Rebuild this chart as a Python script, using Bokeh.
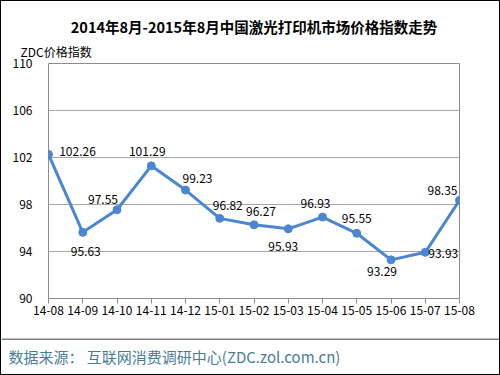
from bokeh.plotting import figure
from bokeh.layouts import column
from bokeh.models import (ColumnDataSource, Range1d, FixedTicker, Title, Span)
from bokeh.core.properties import value
from bokeh.embed import file_html
from bokeh.resources import INLINE

# ---- data ----
months = ["14-08", "14-09", "14-10", "14-11", "14-12", "15-01", "15-02",
          "15-03", "15-04", "15-05", "15-06", "15-07", "15-08"]
index_values = [102.26, 95.63, 97.55, 101.29, 99.23, 96.82, 96.27,
                95.93, 96.93, 95.55, 93.29, 93.93, 98.35]
y_ticks = [90, 94, 98, 102, 106, 110]
title_text = "2014年8月-2015年8月中国激光打印机市场价格指数走势"
unit_text = "ZDC价格指数"
source_text = ["数据来源：  互联网消费调研中心(ZDC.zol.com.cn)"]

# label placement (screen offsets, style only)
label_dx = [29, 3, -14, -4, 12, 8, 7, -5, -7, 0, -9, 18, -17]
label_dy = [-3, 19, -10, -14, -12, -13, -13, 18, -14, -15, 12, 1, -10]

FONT = "Noto Sans CJK SC"
LINE = "#4a86d2"

xs = list(range(len(months)))
src = ColumnDataSource(dict(x=xs, y=index_values,
                            lbl=[f"{v:.2f}" for v in index_values],
                            dx=label_dx, dy=label_dy))

W = 498
p = figure(width=W, height=337, output_backend="svg", toolbar_location=None,
           x_range=Range1d(0, len(months) - 1), y_range=Range1d(90, 110),
           min_border_left=47, min_border_right=40, min_border_top=62,
           min_border_bottom=40)
p.background_fill_color = "white"
p.border_fill_color = "white"
p.outline_line_color = "#8c8c8c"
p.outline_line_width = 1

# titles
p.title = Title(text=title_text, align="center",
                text_font=FONT, text_font_size="14.5px", text_font_style="bold",
                text_color="#000000", standoff=1)
p.add_layout(Title(text=unit_text, align="left", offset=-28,
                   text_font=FONT, text_font_size="12px", text_font_style="normal",
                   text_color="#000000", standoff=7), "above")

# axes
p.xaxis.ticker = FixedTicker(ticks=xs)
p.xaxis.major_label_overrides = {i: m for i, m in enumerate(months)}
p.xaxis.axis_line_color = None
p.xaxis.major_tick_line_color = "#8c8c8c"
p.xaxis.major_tick_out = 5
p.xaxis.major_tick_in = 0
p.xaxis.minor_tick_line_color = None
p.xaxis.major_label_standoff = 2
p.xaxis.major_label_text_font = FONT
p.xaxis.major_label_text_font_size = "12px"
p.xaxis.major_label_text_color = "#000000"

p.yaxis.ticker = FixedTicker(ticks=y_ticks)
p.yaxis.axis_line_color = None
p.yaxis.major_tick_line_color = None
p.yaxis.minor_tick_line_color = None
p.yaxis.major_label_standoff = 10
p.yaxis.major_label_text_font = FONT
p.yaxis.major_label_text_font_size = "12px"
p.yaxis.major_label_text_color = "#000000"

p.xgrid.grid_line_color = None
p.ygrid.grid_line_color = "#a6a6a6"
p.ygrid.grid_line_width = 1

# series
p.line("x", "y", source=src, line_color=LINE, line_width=3)
p.scatter("x", "y", source=src, size=8, fill_color=LINE, line_color=LINE)
p.text("x", "y", text="lbl", source=src, x_offset="dx", y_offset="dy",
       text_align="center", text_baseline="middle",
       text_font=value(FONT), text_font_size="12px", text_color="#000000")

# footer
FH = 36
f = figure(width=W, height=FH, output_backend="svg", toolbar_location=None,
           x_range=Range1d(0, W), y_range=Range1d(0, FH),
           min_border=0, min_border_left=0, min_border_right=0,
           min_border_top=0, min_border_bottom=0,
           x_axis_type=None, y_axis_type=None)
f.outline_line_color = None
f.background_fill_color = "white"
f.border_fill_color = "white"
f.xgrid.grid_line_color = None
f.ygrid.grid_line_color = None
f.add_layout(Span(location=FH - 0.5, dimension="width",
                  line_color="black", line_width=1))
fsrc = ColumnDataSource(dict(x=[7], y=[FH - 18], t=source_text))
f.text("x", "y", text="t", source=fsrc, text_align="left", text_baseline="middle",
       text_font=value(FONT), text_font_size="15px", text_color="#4a7c9a")

footer = column(f, spacing=0)
layout = column(p, footer, spacing=0, styles={"border": "1px solid black"})

open("out.html", "w").write(file_html(layout, INLINE))
